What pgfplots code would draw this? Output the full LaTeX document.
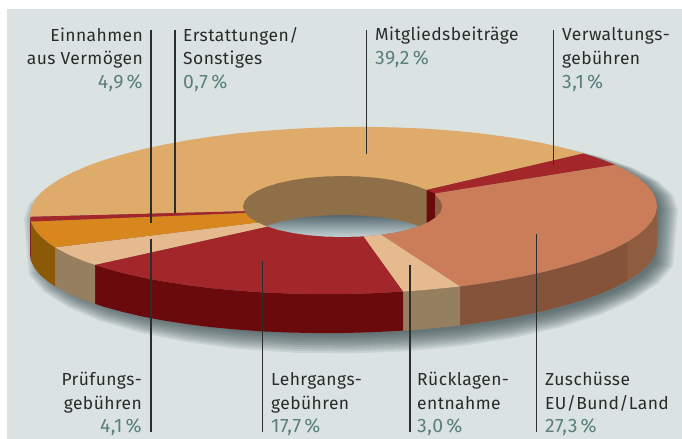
\documentclass[border=0pt]{standalone}
\usepackage{fontspec}
\setmainfont[LetterSpace=2.5]{Fira Sans}
\usepackage{pgfplots}
\usepackage{pgfplotstable}
\pgfplotsset{compat=1.18}
\definecolor{bgc}{HTML}{DAE3E2}
\definecolor{shad}{HTML}{2F4247}
\definecolor{topred}{HTML}{A3262A}
\definecolor{sidered}{HTML}{6B0A0C}
\definecolor{topsand}{HTML}{E4BA8E}
\definecolor{sidesand}{HTML}{967F5F}
\definecolor{topmit}{HTML}{DFAB6B}
\definecolor{topzus}{HTML}{CB7D59}
\definecolor{sidezus}{HTML}{85523A}
\definecolor{sidezusb}{HTML}{8F5C3F}
\definecolor{topein}{HTML}{D8861E}
\definecolor{sideein}{HTML}{8A5A07}
\definecolor{wall}{HTML}{8F6F47}
\definecolor{wallzus}{HTML}{8A5C40}
\definecolor{linec}{HTML}{2D2D2D}
\definecolor{txt}{HTML}{2A2A2A}
\definecolor{pct}{HTML}{5A7F7E}
\definecolor{holetop}{HTML}{56696E}
\definecolor{holebot}{HTML}{C4D2D4}
\pgfplotstableread{
c s h
1 0 0
.9848 .1736 1
.9397 .342 1
.866 .5 1
.766 .6428 1
.6428 .766 1
.5 .866 1
.342 .9397 1
.1736 .9848 1
0 1 1
-.1736 .9848 1
-.342 .9397 1
-.5 .866 1
-.6428 .766 1
-.766 .6428 1
-.866 .5 1
-.9397 .342 1
-.9848 .1736 1
-1 0 0
-.9848 -.1736 0
-.9397 -.342 0
-.866 -.5 0
-.766 -.6428 0
-.6428 -.766 0
-.5 -.866 0
-.342 -.9397 0
-.1736 -.9848 0
0 -1 0
.1736 -.9848 0
.342 -.9397 0
.5 -.866 0
.6428 -.766 0
.766 -.6428 0
.866 -.5 0
.9397 -.342 0
.9848 -.1736 0
}\shadowtab
\newcommand{\lab}[5]{\node[anchor=#1,inner sep=0pt,text=#2,font=\fontsize{17.5}{17.5}\selectfont] at (axis cs:#3,#4) {#5};}
\newcommand{\per}[4]{\node[anchor=#1,inner sep=0pt,text=pct,font=\fontsize{19.5}{19.5}\selectfont] at (axis cs:#2,#3) {#4};}
\begin{document}
\begin{tikzpicture}
\begin{axis}[
  width=682bp,height=439bp,scale only axis,
  xmin=0,xmax=682,ymin=0,ymax=439,y dir=reverse,
  hide axis,clip=false]
% page and panel
\addplot[fill=white,draw=none] coordinates {(0,0)(682,0)(682,439)(0,439)};
\addplot[fill=bgc,draw=none] coordinates {(7,9)(682,9)(682,438.5)(7,438.5)};
% shadow
\pgfplotsinvokeforeach{17,15,13,11,9,7,5,3,1,-1}{
\addplot[fill=shad,draw=none,fill opacity=.1] table[x expr={351+(310+#1)*\thisrow{c}},y expr={214+(83.5+#1*\thisrow{h})*\thisrow{s}+39*\thisrow{h}-4.5*\thisrow{c}}]{\shadowtab};
}
% sides
\addplot[fill=sidezusb,draw=none] coordinates {(657,206)(655.8,213.3)(652.2,220.6)(646.3,227.8)(638.1,234.9)(627.6,241.7)(627.6,280.7)(638.1,273.9)(646.3,266.8)(652.2,259.6)(655.8,252.3)(657,245)};
\addplot[fill=sidezus,draw=none] coordinates {(627.6,241.7)(615,248.35)(600.3,254.7)(583.6,260.8)(565.2,266.3)(545,271.6)(523.3,276.3)(500.3,280.55)(476,284.3)(460,286.4)(460,325.4)(476,323.3)(500.3,319.55)(523.3,315.3)(545,310.6)(565.2,305.3)(583.6,299.8)(600.3,293.7)(615,287.35)(627.6,280.7)};
\addplot[fill=sidesand,draw=none] coordinates {(460,286.4)(450.7,287.5)(424.6,290)(403,291.6)(403,330.6)(424.6,329)(450.7,326.5)(460,325.4)};
\addplot[fill=sidered,draw=none] coordinates {(403,291.6)(397.9,291.9)(370.8,293.3)(343.5,294)(316.2,294.1)(289.1,293.5)(262.4,292.4)(236.3,290.5)(211,288.1)(186.7,285.05)(163.7,281.5)(142,277.4)(121.8,272.7)(103.4,267.6)(95,264.8)(95,303.8)(103.4,306.6)(121.8,311.7)(142,316.4)(163.7,320.5)(186.7,324.05)(211,327.1)(236.3,329.5)(262.4,331.4)(289.1,332.5)(316.2,333.1)(343.5,333)(370.8,332.3)(397.9,330.9)(403,330.6)};
\addplot[fill=sidesand,draw=none] coordinates {(95,264.8)(86.7,262.1)(72,256.15)(59.4,249.9)(55,247.3)(55,286.3)(59.4,288.9)(72,295.15)(86.7,301.1)(95,303.8)};
\addplot[fill=sideein,draw=none] coordinates {(55,247.3)(48.9,243.3)(40.7,236.4)(34.8,229.4)(30.8,221.5)(30.8,260.5)(34.8,268.4)(40.7,275.4)(48.9,282.3)(55,286.3)};
\addplot[fill=topred!80!black,draw=none] coordinates {(30.8,221.5)(30,215)(30,254)(30.8,260.5)};
% top surface
\addplot[fill=topmit,draw=none] coordinates {(583.6,153.4)(565.2,148.3)(545,143.6)(523.3,139.5)(500.3,135.95)(476,132.9)(450.7,130.5)(424.6,128.6)(397.9,127.5)(370.8,126.9)(343.5,127)(316.2,127.7)(289.1,129.1)(262.4,131)(236.3,133.5)(211,136.7)(186.7,140.45)(163.7,144.7)(142,149.4)(121.8,154.7)(103.4,160.2)(86.7,166.3)(72,172.65)(59.4,179.3)(48.9,186.1)(40.7,193.2)(34.8,200.4)(31.2,207.7)(30,215)(30.2,216.8)(244.5,211.2)(342.5,206)(426.5,190)};
\addplot[fill=topred,draw=none] coordinates {(583.6,153.4)(600.3,158.9)(615,164.85)(435,193.5)(342.5,206)(426.5,190)};
\addplot[fill=topzus,draw=none] coordinates {(615,164.85)(627.6,171.1)(638.1,177.7)(646.3,184.6)(652.2,191.6)(655.8,198.7)(657,206)(655.8,213.3)(652.2,220.6)(646.3,227.8)(638.1,234.9)(627.6,241.7)(615,248.35)(600.3,254.7)(583.6,260.8)(565.2,266.3)(545,271.6)(523.3,276.3)(500.3,280.55)(476,284.3)(460,286.4)(381.5,235)(342.5,206)(435,193.5)};
\addplot[fill=topsand,draw=none] coordinates {(460,286.4)(450.7,287.5)(424.6,290)(403,291.6)(363,236)(342.5,206)(381.5,235)};
\addplot[fill=topred,draw=none] coordinates {(403,291.6)(397.9,291.9)(370.8,293.3)(343.5,294)(316.2,294.1)(289.1,293.5)(262.4,292.4)(236.3,290.5)(211,288.1)(186.7,285.05)(163.7,281.5)(142,277.4)(121.8,272.7)(103.4,267.6)(95,264.8)(267,226.6)(342.5,206)(363,236)};
\addplot[fill=topsand,draw=none] coordinates {(95,264.8)(86.7,262.1)(72,256.15)(59.4,249.9)(55,247.3)(258,222.5)(342.5,206)(267,226.6)};
\addplot[fill=topein,draw=none] coordinates {(55,247.3)(48.9,243.3)(40.7,236.4)(34.8,229.4)(30.8,221.5)(245,212.9)(342.5,206)(258,222.5)};
\addplot[fill=topred,draw=none] coordinates {(30.8,221.5)(30.2,216.8)(244.5,211.2)(342.5,206)(245,212.9)};
% inner wall
\addplot[fill=wall,draw=none] coordinates {(442,206.5)(440.5,211.8)(436,216.9)(428.7,221.75)(418.7,226.1)(406.5,229.9)(392.3,232.9)(376.5,235.2)(359.8,236.5)(342.5,237)(325.2,236.5)(308.5,235.2)(292.7,232.9)(278.5,229.9)(266.3,226.1)(256.3,221.75)(249,216.9)(244.5,211.8)(243,206.5)(244.5,201.2)(249,196.1)(256.3,191.25)(266.3,186.9)(278.5,183.1)(292.7,180.1)(308.5,177.8)(325.2,176.5)(342.5,176)(359.8,176.5)(376.5,177.8)(392.3,180.1)(406.5,183.1)(418.7,186.9)(426.5,190)(436,196.1)(440.5,201.2)};
\addplot[fill=sidered,draw=none] coordinates {(426.5,190)(435,193.5)(435,217.6)(428.7,221.75)(426.5,222.7)};
\addplot[fill=wallzus,draw=none] coordinates {(435,193.5)(436,196.1)(440.5,201.2)(442,206.5)(440.5,211.8)(436,216.9)(435,217.6)};
% opening of the hole
\addplot[top color=holetop,bottom color=holebot,draw=none] coordinates {(266.3,226)(278.5,222.1)(292.7,219.1)(308.5,216.8)(325.2,215.5)(342.5,215)(359.8,215.5)(376.5,216.8)(392.3,219.1)(406.5,222.1)(418.7,226)(406.5,229.9)(392.3,232.9)(376.5,235.2)(359.8,236.5)(342.5,237)(325.2,236.5)(308.5,235.2)(292.7,232.9)(278.5,229.9)} --cycle;
% leader lines
\pgfplotsset{leader/.style={draw=linec,line width=1.2bp,no marks}}
\addplot[leader] coordinates {(151,30.5)(151,223)};
\addplot[leader] coordinates {(175,30.5)(175,212.5)};
\addplot[leader] coordinates {(366.5,30.5)(366.5,153.5)};
\addplot[leader] coordinates {(553.7,30)(553.7,165)};
\addplot[leader] coordinates {(151,239)(151,432)};
\addplot[leader] coordinates {(262.5,261)(262.5,432)};
\addplot[leader] coordinates {(410,264.5)(410,432)};
\addplot[leader] coordinates {(536.3,234)(536.3,432)};
% labels
\lab{base east}{txt}{143}{41.7}{Einnahmen}
\lab{base east}{txt}{143}{65}{aus Vermögen}
\per{base east}{143}{88.3}{4,9\,\%}
\lab{base west}{txt}{183}{41.7}{Erstattungen/}
\lab{base west}{txt}{183}{65}{Sonstiges}
\per{base west}{183}{88.3}{0,7\,\%}
\lab{base west}{txt}{375}{41}{Mitgliedsbeiträge}
\per{base west}{375}{65}{39,2\,\%}
\lab{base west}{txt}{562}{41}{Verwaltungs-}
\lab{base west}{txt}{562}{65}{gebühren}
\per{base west}{562}{88.3}{3,1\,\%}
\lab{base east}{txt}{142}{385}{Prüfungs-}
\lab{base east}{txt}{142}{409.3}{gebühren}
\per{base east}{142}{432.7}{4,1\,\%}
\lab{base west}{txt}{271}{385}{Lehrgangs-}
\lab{base west}{txt}{271}{409.3}{gebühren}
\per{base west}{271}{432.7}{17,7\,\%}
\lab{base west}{txt}{417}{385}{Rücklagen-}
\lab{base west}{txt}{417}{409.3}{entnahme}
\per{base west}{417}{432.7}{3,0\,\%}
\lab{base west}{txt}{545}{385}{Zuschüsse}
\lab{base west}{txt}{545}{409.3}{EU/Bund/Land}
\per{base west}{545}{432.7}{27,3\,\%}
\end{axis}
\end{tikzpicture}
\end{document}
